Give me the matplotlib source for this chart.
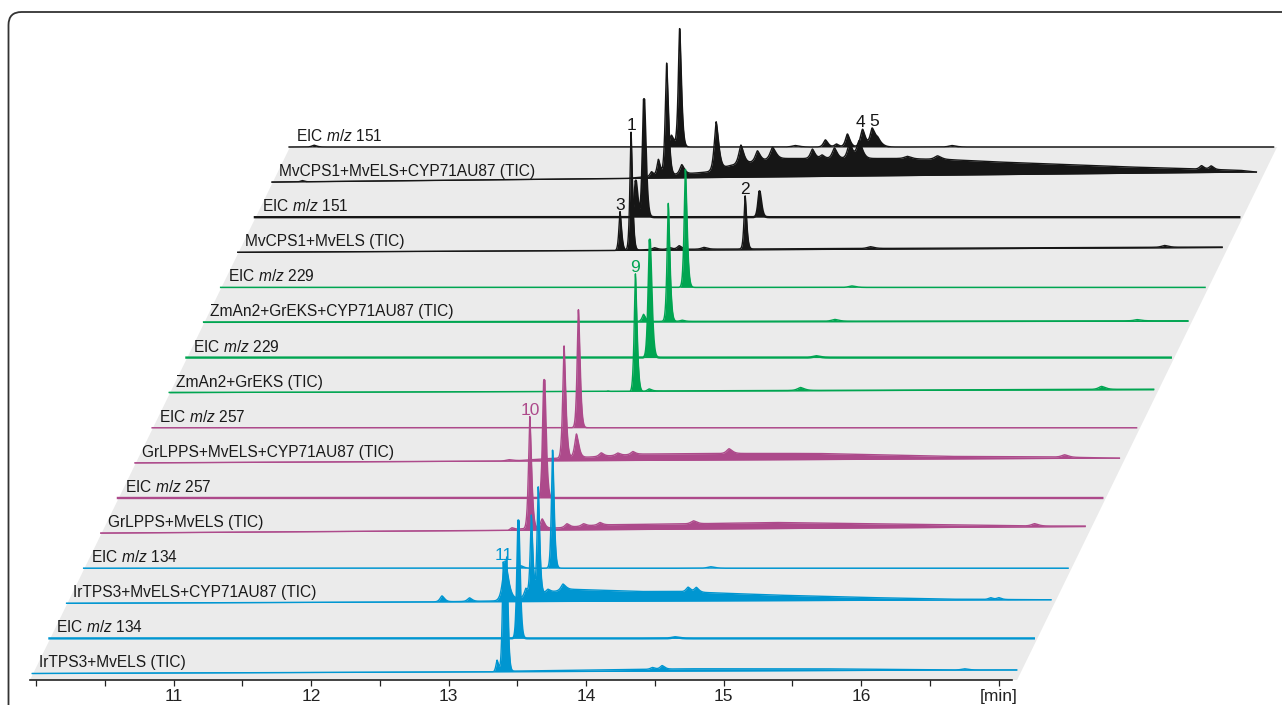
import matplotlib
matplotlib.use("Agg")
import matplotlib.pyplot as plt
from matplotlib.patches import FancyBboxPatch, Polygon
import numpy as np

plt.rcParams["font.family"] = ["Liberation Sans", "DejaVu Sans"]
plt.rcParams["mathtext.fontset"] = "custom"
plt.rcParams["mathtext.rm"] = "Liberation Sans"
plt.rcParams["mathtext.it"] = "Liberation Sans:italic"

# ---- data: peaks as (retention time [min], rel. intensity [%], width [min]) ----
# humps = slow TIC background as (time, level) points, drift = baseline rise at run end

# MvCPS1 series (black)
eic151_cyp = [(10.13, 1.5, 0.02), (12.73, 10, 0.02), (12.79, 100, 0.014), (13.63, 1.2, 0.03),
              (13.85, 6, 0.02), (13.93, 2.5, 0.02), (14.01, 11, 0.02), (14.12, 15, 0.022),
              (14.19, 14.5, 0.022), (14.23, 6, 0.03), (14.77, 1.2, 0.03)]
tic_mv_cyp = [(10.17, 1.2, 0.02), (12.36, 1.5, 0.02), (12.71, 4, 0.015), (12.76, 14, 0.015),
              (12.82, 95, 0.015), (12.93, 8, 0.02), (13.18, 41, 0.02), (13.36, 16, 0.022),
              (13.48, 9, 0.022), (13.59, 10, 0.025), (13.88, 8, 0.02), (13.95, 3, 0.02),
              (14.04, 9, 0.022), (14.15, 13, 0.022), (14.22, 15, 0.025), (14.57, 2, 0.03),
              (14.79, 3, 0.03), (16.71, 3, 0.02), (16.78, 3, 0.02)]
hump_mv_cyp_t = [9.95, 12.33, 12.62, 13.06, 13.15, 13.28, 13.62, 14.51, 14.88, 15.24, 16.13, 16.70, 16.99, 17.11]
hump_mv_cyp_h = [0, 1, 4, 8, 9, 14, 20, 20, 19, 17, 13, 11, 10, 8.5]
eic151 = [(12.72, 31, 0.014), (12.78, 100, 0.014), (13.62, 22, 0.014)]
tic_mv = [(12.73, 33, 0.012), (12.81, 100, 0.012), (12.98, 1.5, 0.02), (13.09, 1.5, 0.02),
          (13.16, 3, 0.02), (13.34, 1.5, 0.025), (13.64, 45, 0.012), (14.55, 1.5, 0.03),
          (16.69, 1.5, 0.03)]
hump_mv_t = [9.95, 12.6, 13.0, 17.11]
hump_mv_h = [0, 1, 2.5, 4.5]

# ZmAn2 series (green)
eic229_cyp = [(13.33, 100, 0.013), (14.54, 1.2, 0.03)]
tic_zm_cyp = [(13.15, 6, 0.015), (13.33, 100, 0.013), (13.43, 1, 0.02), (14.54, 1.5, 0.03),
              (16.74, 1, 0.03)]
hump_zm_cyp_t = [9.95, 17.11]
hump_zm_cyp_h = [0.5, 1.5]
eic229 = [(13.32, 100, 0.014), (14.53, 1.2, 0.03)]
tic_zm = [(13.14, 1, 0.02), (13.34, 100, 0.013), (13.44, 2, 0.02), (14.54, 2.5, 0.03),
          (16.73, 2.5, 0.03)]
hump_zm_t = [9.95, 13.3, 13.5, 17.11]
hump_zm_h = [0.3, 0.5, 1.5, 3]

# GrLPPS series (magenta)
eic257_cyp = [(13.05, 100, 0.013)]
tic_gr_cyp = [(12.67, 1, 0.03), (13.07, 95, 0.014), (13.16, 20, 0.018), (13.34, 3, 0.02),
              (13.46, 2, 0.02), (13.57, 2.5, 0.02), (14.27, 4, 0.025), (16.71, 2, 0.03)]
hump_gr_cyp_t = [9.95, 12.46, 12.75, 12.93, 13.04, 13.26, 13.62, 14.28, 14.91, 15.86, 16.65, 17.11]
hump_gr_cyp_h = [0, 1, 2, 3.5, 4, 5, 7.5, 8, 8, 5.5, 5, 4]
eic257 = [(13.05, 100, 0.013)]
tic_gr = [(12.63, 1, 0.03), (12.94, 2, 0.02), (13.07, 95, 0.014), (13.16, 8, 0.018),
          (13.34, 3, 0.02), (13.46, 2, 0.02), (13.58, 2, 0.02), (14.26, 2.5, 0.025),
          (16.74, 2, 0.03)]
hump_gr_t = [9.95, 12.27, 12.85, 13.0, 13.29, 13.58, 14.31, 14.85, 16.11, 16.74, 17.11]
hump_gr_h = [0, 0.5, 1, 3.5, 4.5, 7, 8, 9, 7, 6, 6]

# IrTPS3 series (blue)
eic134_cyp = [(13.13, 2, 0.02), (13.36, 100, 0.012), (14.51, 1.2, 0.03)]
tic_ir_cyp = [(12.68, 5, 0.02), (12.88, 3, 0.02), (13.14, 33, 0.025), (13.29, 7, 0.015),
              (13.33, 68, 0.012), (13.38, 91, 0.012), (13.45, 3, 0.02), (13.56, 5, 0.02),
              (14.47, 4, 0.02), (14.53, 4, 0.02), (16.67, 1.5, 0.02), (16.73, 1.5, 0.02)]
hump_ir_cyp_t = [9.95, 12.52, 13.07, 13.21, 13.43, 13.59, 14.12, 14.40, 15.09, 15.73, 16.36, 17.11]
hump_ir_cyp_h = [0, 1, 2, 4, 8.5, 12, 10, 10, 7, 5, 3.5, 3]
eic134 = [(13.36, 100, 0.012), (14.50, 1, 0.03)]
tic_ir = [(13.33, 10, 0.012), (13.375, 90, 0.011), (13.40, 88, 0.011), (14.46, 1.5, 0.02),
          (14.53, 3, 0.02), (16.73, 1, 0.03)]
hump_ir_t = [9.95, 13.21, 13.42, 14.08, 14.71, 15.66, 16.61, 17.11]
hump_ir_h = [0, 0.5, 2, 3, 4, 4, 3, 3]

# baseline drift of the TIC traces (%)
drift_mv_cyp, drift_mv, drift_zm_cyp, drift_zm = 8.5, 4, 1, 2.5
drift_gr_cyp, drift_gr, drift_ir_cyp, drift_ir = 4, 5.5, 3, 3

# peak annotations: (trace level, retention time, label)
peak_labels = [(12, 12.81, "1"), (12, 13.64, "2"), (12, 12.73, "3"), (15, 14.12, "4"),
               (15, 14.19, "5"), (8, 13.34, "9"), (4, 13.07, "10"), (0, 13.375, "11")]

x_ticks = [10, 10.5, 11, 11.5, 12, 12.5, 13, 13.5, 14, 14.5, 15, 15.5, 16, 16.5, 17]
x_ticklabels = ["", "", "11", "", "12", "", "13", "", "14", "", "15", "", "16", "", "[min]"]

BLACK = "#161616"
GREEN = "#00a551"
MAGENTA = "#ad4a8b"
BLUE = "#0096d1"

# bottom trace first: (label, color, peaks, hump, drift)
traces = [
    ("IrTPS3+MvELS (TIC)", BLUE, tic_ir, (hump_ir_t, hump_ir_h), drift_ir),
    ("EIC $m/z$ 134", BLUE, eic134, None, 0),
    ("IrTPS3+MvELS+CYP71AU87 (TIC)", BLUE, tic_ir_cyp, (hump_ir_cyp_t, hump_ir_cyp_h), drift_ir_cyp),
    ("EIC $m/z$ 134", BLUE, eic134_cyp, None, 0),
    ("GrLPPS+MvELS (TIC)", MAGENTA, tic_gr, (hump_gr_t, hump_gr_h), drift_gr),
    ("EIC $m/z$ 257", MAGENTA, eic257, None, 0),
    ("GrLPPS+MvELS+CYP71AU87 (TIC)", MAGENTA, tic_gr_cyp, (hump_gr_cyp_t, hump_gr_cyp_h), drift_gr_cyp),
    ("EIC $m/z$ 257", MAGENTA, eic257_cyp, None, 0),
    ("ZmAn2+GrEKS (TIC)", GREEN, tic_zm, (hump_zm_t, hump_zm_h), drift_zm),
    ("EIC $m/z$ 229", GREEN, eic229, None, 0),
    ("ZmAn2+GrEKS+CYP71AU87 (TIC)", GREEN, tic_zm_cyp, (hump_zm_cyp_t, hump_zm_cyp_h), drift_zm_cyp),
    ("EIC $m/z$ 229", GREEN, eic229_cyp, None, 0),
    ("MvCPS1+MvELS (TIC)", BLACK, tic_mv, (hump_mv_t, hump_mv_h), drift_mv),
    ("EIC $m/z$ 151", BLACK, eic151, None, 0),
    ("MvCPS1+MvELS+CYP71AU87 (TIC)", BLACK, tic_mv_cyp, (hump_mv_cyp_t, hump_mv_cyp_h), drift_mv_cyp),
    ("EIC $m/z$ 151", BLACK, eic151_cyp, None, 0),
]

# ---- layout ----
W, H = 1282, 705
PX = 1.18              # pixels per % intensity
GAP = 35.1 / PX        # vertical distance between traces
BASE0 = 6.5 / PX       # first baseline above the time axis
SLANT = 0.4878 * PX / 137.5   # time shift per y unit (oblique stacking)
T0, T1 = 9.95, 17.11
label_nudge = {"4": -2.5, "5": 2.5}   # px


def signal(t, peaks, hump):
    y = np.zeros_like(t)
    if hump is not None:
        y += np.interp(t, hump[0], hump[1])
    for rt, h, w in peaks:
        d = t - rt
        ww = np.where(d < 0, w, w * 1.3)
        y += h * np.exp(-(np.abs(d) / ww) ** 1.5)
    return y


fig = plt.figure(figsize=(W / 100, H / 100), dpi=100)
ax = fig.add_axes([30 / W, (H - 680) / H, 982 / W, 666 / H])
ax.set_xlim(9.956, 17.098)
ax.set_ylim(0, 666 / PX)

# grey slanted backdrop
top_y = BASE0 + 15 * GAP
ax.add_patch(Polygon([(9.956, 0), (17.135, 0), (17.135 + top_y * SLANT, top_y),
                      (9.956 + top_y * SLANT, top_y)], closed=True,
                     facecolor="#ebebeb", edgecolor="none", zorder=0, clip_on=False))

t = np.arange(T0, T1, 0.001)
curves = {}
for k in range(15, -1, -1):
    label, color, peaks, hump, drift = traces[k]
    yb = BASE0 + k * GAP
    dx = yb * SLANT
    z = 2 + (15 - k) * 0.1
    top = signal(t, peaks, hump)
    curves[k] = top
    if hump is not None:
        bottom = drift * (t - T0) / (T1 - T0)
        top = np.maximum(top, bottom)
        ax.fill_between(t + dx, yb + bottom, yb + top, color=color, lw=0, zorder=z, clip_on=False)
        ax.plot(t + dx, yb + top, color=color, lw=1.0, zorder=z, clip_on=False)
        ax.plot(t + dx, yb + bottom, color=color, lw=0.8, zorder=z, clip_on=False)
    else:
        lw = 1.1 if k % 4 == 3 else 1.7
        ax.fill_between(t + dx, yb, yb + top, color=color, lw=0, zorder=z, clip_on=False)
        ax.plot(t + dx, yb + top, color=color, lw=lw, zorder=z, clip_on=False)
    ax.text(10.0 + dx, yb + 6 / PX, label, fontsize=11.2, color="#1a1a1a",
            ha="left", va="baseline", zorder=10, clip_on=False)

for k, rt, txt in peak_labels:
    yb = BASE0 + k * GAP
    tip = np.interp(rt, t, curves[k])
    x = rt + yb * SLANT + label_nudge.get(txt, 0) / 137.5
    ax.text(x, yb + tip + 2 / PX, txt, fontsize=12.5, color=traces[k][1],
            ha="center", va="baseline", zorder=10, clip_on=False)

for side in ("left", "right", "top"):
    ax.spines[side].set_visible(False)
ax.spines["bottom"].set_color("#222222")
ax.spines["bottom"].set_linewidth(1.2)
ax.set_yticks([])
ax.set_xticks(x_ticks, x_ticklabels)
ax.tick_params(axis="x", direction="out", length=4.5, width=0.9, pad=2,
               labelsize=12.5, colors="#222222")
ax.patch.set_visible(False)

# panel frame (rounded corner, cut by the image edge)
fig.add_artist(FancyBboxPatch((0.085, -1.0), 20, 7.93, boxstyle="round,pad=0,rounding_size=0.13",
                              transform=fig.dpi_scale_trans, facecolor="none",
                              edgecolor="#333333", lw=1.3))

fig.savefig("out.png", dpi=100)
